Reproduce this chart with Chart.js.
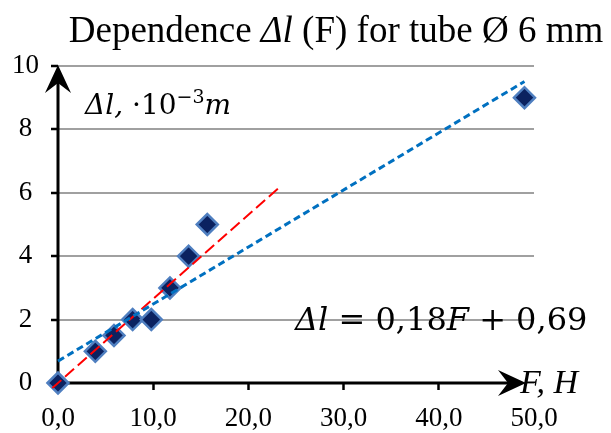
<!DOCTYPE html>
<html><head><meta charset="utf-8">
<script src="https://cdn.jsdelivr.net/npm/chart.js@4.4.0/dist/chart.umd.min.js"></script>
<style>html,body{margin:0;padding:0;background:#fff}</style>
</head><body>
<canvas id="c" width="611" height="433"></canvas>
<script>
// ---- data ----
const forceF = [0, 3.92, 5.88, 7.84, 9.8, 11.76, 13.72, 15.68, 49];
const elongation = [0, 1, 1.5, 2, 2, 3, 4, 5, 9];
const trendX = [0, 49];
const trendY = [0.69, 9.51];
const guideX = [-0.6, 23.1];
const guideY = [-0.16, 6.13];
const xTickLabels = ['0,0', '10,0', '20,0', '30,0', '40,0', '50,0'];
const yTickLabels = ['0', '2', '4', '6', '8', '10'];

const SERIF = '"Liberation Serif", "Times New Roman", serif';
const MATH = '"DejaVu Serif", serif';

function pts(xs, ys) { return xs.map((x, i) => ({ x: x, y: ys[i] })); }

function drawRuns(ctx, parts, x, y, align) {
  let w = 0;
  parts.forEach(p => { ctx.font = p[1]; w += ctx.measureText(p[0]).width; });
  let cx = align === 'center' ? x - w / 2 : (align === 'right' ? x - w : x);
  parts.forEach(p => {
    ctx.font = p[1];
    ctx.fillText(p[0], cx, y + (p[2] || 0));
    cx += ctx.measureText(p[0]).width;
  });
}

const deco = {
  id: 'deco',
  beforeDatasetsDraw(chart) {
    const ctx = chart.ctx, a = chart.chartArea;
    const L = a.left, B = a.bottom, T = a.top, R = a.right;
    ctx.save();
    ctx.strokeStyle = '#000';
    ctx.fillStyle = '#000';
    ctx.lineWidth = 3;
    // y axis
    ctx.beginPath();
    ctx.moveTo(L, B + 1.5);
    ctx.lineTo(L, T + 16);
    ctx.stroke();
    // x axis
    const tipX = R - 8;
    ctx.beginPath();
    ctx.moveTo(L - 1.5, B);
    ctx.lineTo(tipX - 16, B);
    ctx.stroke();
    // y arrow head
    ctx.beginPath();
    ctx.moveTo(L, T - 1);
    ctx.lineTo(L + 13, T + 27);
    ctx.lineTo(L, T + 17);
    ctx.lineTo(L - 13, T + 27);
    ctx.closePath();
    ctx.fill();
    // x arrow head
    ctx.beginPath();
    ctx.moveTo(tipX, B);
    ctx.lineTo(tipX - 28, B - 13);
    ctx.lineTo(tipX - 18, B);
    ctx.lineTo(tipX - 28, B + 13);
    ctx.closePath();
    ctx.fill();
    ctx.restore();
  },
  afterDraw(chart) {
    const ctx = chart.ctx;
    ctx.save();
    ctx.fillStyle = '#000';
    ctx.textBaseline = 'alphabetic';
    // title
    drawRuns(ctx, [
      ['Dependence ', '37px ' + SERIF],
      ['\u0394l', 'italic 37px ' + SERIF],
      [' (F) for tube \u00D8 6 mm', '37px ' + SERIF]
    ], 336, 42, 'center');
    // y axis caption
    drawRuns(ctx, [
      ['\u0394l,', 'italic 28px ' + MATH],
      [' \u00B710', '28px ' + MATH],
      ['\u22123', '19px ' + MATH, -11],
      ['m', 'italic 28px ' + MATH]
    ], 85, 114, 'left');
    // x axis caption
    drawRuns(ctx, [['F, H', 'italic 34px ' + SERIF]], 520, 393, 'left');
    // trendline equation
    drawRuns(ctx, [
      ['\u0394l', 'italic 32px ' + MATH],
      [' = 0,18', '32px ' + MATH],
      ['F', 'italic 32px ' + MATH],
      [' + 0,69', '32px ' + MATH]
    ], 295, 330, 'left');
    ctx.restore();
  }
};

new Chart(document.getElementById('c'), {
  type: 'scatter',
  data: {
    datasets: [
      { label: 'trend', type: 'line', data: pts(trendX, trendY), borderColor: '#0070C0', borderWidth: 3, borderDash: [7, 4], pointRadius: 0, fill: false, showLine: true, order: 0, clip: false },
      { label: 'guide', type: 'line', data: pts(guideX, guideY), borderColor: '#FF0000', borderWidth: 2, borderDash: [12, 5], pointRadius: 0, fill: false, showLine: true, order: 0, clip: false },
      { label: 'measured', data: pts(forceF, elongation), pointStyle: 'rectRot', pointRadius: 10.5, pointHoverRadius: 10.5, backgroundColor: '#0B2260', borderColor: '#4F7FC0', borderWidth: 2.5, order: 1, clip: false }
    ]
  },
  options: {
    responsive: false,
    animation: false,
    devicePixelRatio: 1,
    layout: { padding: { top: 66, right: 77, bottom: 0, left: 0 } },
    plugins: { legend: { display: false }, tooltip: { enabled: false }, title: { display: false } },
    scales: {
      x: {
        type: 'linear', min: 0, max: 50,
        border: { display: false },
        grid: {
          drawOnChartArea: false, drawTicks: true, tickLength: 7, tickWidth: 2.5,
          tickColor: c => (c.index === 5 ? 'rgba(0,0,0,0)' : '#000')
        },
        ticks: {
          stepSize: 10, maxRotation: 0, padding: 13, color: '#000',
          font: { family: SERIF, size: 27 },
          callback: (v, i) => xTickLabels[i]
        },
        afterFit: s => { s.height = 50; }
      },
      y: {
        type: 'linear', min: 0, max: 10,
        border: { display: false },
        grid: { color: '#A0A0A0', lineWidth: 2, tickLength: 7, tickWidth: 2.5, tickColor: '#000' },
        ticks: {
          stepSize: 2, padding: 12, color: '#000', crossAlign: 'center',
          font: { family: SERIF, size: 27 },
          callback: (v, i) => yTickLabels[i]
        },
        afterFit: s => { s.width = 58; }
      }
    }
  },
  plugins: [deco]
});
</script>
</body></html>
